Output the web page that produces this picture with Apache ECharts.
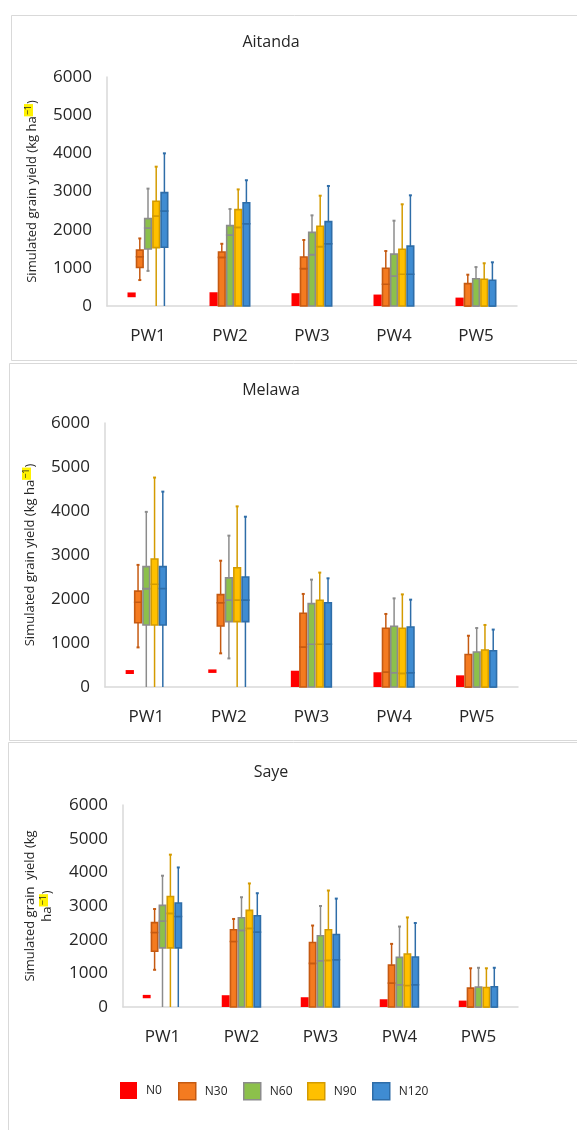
<!DOCTYPE html>
<html>
<head>
<meta charset="utf-8">
<script src="https://cdn.jsdelivr.net/npm/echarts@6/dist/echarts.min.js"></script>
<style>
  html, body { margin: 0; padding: 0; background: #ffffff; }
  #chart { width: 577px; height: 1130px; }
</style>
</head>
<body>
<div id="chart"></div>
<script>
// Planting windows on the x axis and nitrogen rates in the legend
const categories = ['PW1', 'PW2', 'PW3', 'PW4', 'PW5'];
const nitrogenLevels = ['N0', 'N30', 'N60', 'N90', 'N120'];
const sites = ['Aitanda', 'Melawa', 'Saye'];
const yTicks = [0, 1000, 2000, 3000, 4000, 5000, 6000];

// Simulated grain yield (kg/ha), one row per planting window: [min, Q1, median, Q3, max]
const aitandaN0   = [[230, 230, 230, 355, 355], [0, 0, 0, 360, 360], [0, 0, 0, 335, 335], [0, 0, 0, 300, 300], [0, 0, 0, 220, 220]];
const aitandaN30  = [[680, 1010, 1290, 1465, 1770], [0, 0, 1275, 1415, 1630], [0, 0, 980, 1285, 1730], [0, 0, 570, 990, 1440], [0, 0, 0, 585, 820]];
const aitandaN60  = [[920, 1495, 2045, 2290, 3075], [0, 0, 1860, 2105, 2540], [0, 0, 1345, 1930, 2375], [0, 0, 785, 1360, 2235], [0, 0, 0, 715, 1020]];
const aitandaN90  = [[0, 1530, 2360, 2745, 3650], [0, 0, 2060, 2525, 3055], [0, 0, 1555, 2090, 2890], [0, 0, 830, 1485, 2665], [0, 0, 0, 700, 1120]];
const aitandaN120 = [[0, 1540, 2490, 2970, 4000], [0, 0, 2155, 2705, 3295], [0, 0, 1630, 2210, 3145], [0, 0, 830, 1570, 2900], [0, 0, 0, 675, 1145]];

const melawaN0   = [[295, 295, 295, 385, 385], [320, 320, 320, 400, 400], [0, 0, 0, 370, 370], [0, 0, 0, 335, 335], [0, 0, 0, 265, 265]];
const melawaN30  = [[900, 1460, 1925, 2180, 2775], [765, 1385, 1915, 2100, 2870], [0, 0, 910, 1675, 2115], [0, 0, 340, 1335, 1660], [0, 0, 0, 740, 1165]];
const melawaN60  = [[0, 1410, 2235, 2735, 3980], [650, 1485, 1975, 2480, 3440], [0, 0, 970, 1895, 2440], [0, 0, 325, 1380, 2015], [0, 0, 0, 795, 1340]];
const melawaN90  = [[0, 1410, 2335, 2910, 4760], [0, 1485, 1975, 2710, 4105], [0, 0, 970, 1970, 2600], [0, 0, 310, 1335, 2105], [0, 0, 0, 840, 1410]];
const melawaN120 = [[0, 1410, 2240, 2735, 4440], [0, 1485, 1975, 2500, 3870], [0, 0, 975, 1915, 2470], [0, 0, 325, 1365, 1985], [0, 0, 0, 825, 1305]];

const sayeN0   = [[260, 260, 260, 360, 360], [0, 0, 0, 350, 350], [0, 0, 0, 290, 290], [0, 0, 0, 230, 230], [0, 0, 0, 190, 190]];
const sayeN30  = [[1105, 1655, 2215, 2505, 2910], [0, 0, 1945, 2295, 2615], [0, 0, 1295, 1915, 2420], [0, 0, 710, 1245, 1875], [0, 0, 0, 560, 1150]];
const sayeN60  = [[0, 1755, 2555, 3020, 3900], [0, 0, 2275, 2650, 3260], [0, 0, 1375, 2115, 3000], [0, 0, 660, 1475, 2390], [0, 0, 0, 590, 1165]];
const sayeN90  = [[0, 1755, 2780, 3280, 4525], [0, 0, 2335, 2870, 3670], [0, 0, 1385, 2295, 3460], [0, 0, 640, 1575, 2660], [0, 0, 0, 580, 1150]];
const sayeN120 = [[0, 1755, 2690, 3090, 4145], [0, 0, 2225, 2710, 3380], [0, 0, 1405, 2155, 3220], [0, 0, 660, 1485, 2495], [0, 0, 0, 600, 1165]];

const siteData = [
  [aitandaN0, aitandaN30, aitandaN60, aitandaN90, aitandaN120],
  [melawaN0, melawaN30, melawaN60, melawaN90, melawaN120],
  [sayeN0, sayeN30, sayeN60, sayeN90, sayeN120]
];

// Box fill and outline/whisker colours per nitrogen rate
const fills   = ['#FF0000', '#F47B20', '#8CC04B', '#FFC000', '#3F8CD2'];
const strokes = [null,      '#C55A11', '#8C8C8C', '#D49B00', '#2E6DA8'];

// Plot areas of the three panels
const grids = [
  { left: 107, top: 77,  width: 410, height: 229 },
  { left: 105, top: 423, width: 413, height: 264 },
  { left: 123, top: 805, width: 395, height: 202 }
];
const titleTops = [34, 382, 764];
const nameGaps = [66, 66, 67];
const legendLefts = [120, 178, 243, 307, 372];
const yNames = [
  'Simulated grain yield (kg ha{sup|−1})',
  'Simulated grain yield (kg ha{sup|−1})',
  'Simulated grain  yield (kg\nha{sup|−1})'
];

const font = '"Open Sans", "Liberation Sans", sans-serif';
const textColor = '#262626';

function makeRenderer(slot) {
  return function (params, api) {
    const cat = api.value(0);
    const min = api.value(1), q1 = api.value(2), med = api.value(3), q3 = api.value(4), max = api.value(5);
    const band = api.size([1, 0])[0];
    const w = band * 0.1;
    const cx = api.coord([cat, 0])[0] + (slot - 2) * w;
    const y = v => api.coord([cat, v])[1];
    const fill = fills[slot];
    const stroke = strokes[slot];
    const children = [];

    if (stroke) {
      const whisker = { stroke: stroke, lineWidth: 1.5 };
      const cap = { stroke: stroke, lineWidth: 2 };
      if (max > q3) {
        children.push({ type: 'line', shape: { x1: cx, y1: y(q3), x2: cx, y2: y(max) }, style: whisker });
        children.push({ type: 'line', shape: { x1: cx - 1.5, y1: y(max), x2: cx + 1.5, y2: y(max) }, style: cap });
      }
      if (min < q1) {
        children.push({ type: 'line', shape: { x1: cx, y1: y(min), x2: cx, y2: y(q1) }, style: whisker });
        if (min > 0) {
          children.push({ type: 'line', shape: { x1: cx - 1.5, y1: y(min), x2: cx + 1.5, y2: y(min) }, style: cap });
        }
      }
      const boxStyle = { fill: fill, stroke: stroke, lineWidth: 1.6 };
      const x0 = cx - w / 2 + 0.8;
      children.push({ type: 'rect', shape: { x: x0, y: y(med), width: w - 1.6, height: y(q1) - y(med) }, style: boxStyle });
      children.push({ type: 'rect', shape: { x: x0, y: y(q3), width: w - 1.6, height: y(med) - y(q3) }, style: boxStyle });
    } else {
      children.push({ type: 'rect', shape: { x: cx - w / 2, y: y(q3), width: w, height: y(q1) - y(q3) }, style: { fill: fill } });
    }
    return { type: 'group', children: children };
  };
}

const series = [];
siteData.forEach((levels, gi) => {
  levels.forEach((rows, slot) => {
    series.push({
      type: 'custom',
      name: nitrogenLevels[slot],
      xAxisIndex: gi,
      yAxisIndex: gi,
      renderItem: makeRenderer(slot),
      encode: { x: 0, y: [1, 5] },
      itemStyle: { color: fills[slot], borderColor: strokes[slot] || fills[slot] },
      data: rows.map((r, i) => [i].concat(r))
    });
  });
});

// One legend entry per nitrogen rate
const legends = nitrogenLevels.map((n, i) => ({
  left: legendLefts[i],
  top: 1082,
  padding: 0,
  itemWidth: 17,
  itemHeight: 17,
  icon: 'rect',
  selectedMode: false,
  data: [{
    name: n,
    itemStyle: { color: fills[i], borderColor: strokes[i] || fills[i], borderWidth: strokes[i] ? 1.5 : 0 }
  }],
  textStyle: { fontFamily: font, fontSize: 12, color: textColor, padding: [0, 0, 0, 4] }
}));

const option = {
  animation: false,
  backgroundColor: '#ffffff',
  graphic: [
    { type: 'rect', shape: { x: 11.5, y: 15.5, width: 620, height: 345 }, style: { fill: 'none', stroke: '#d9d9d9', lineWidth: 1 } },
    { type: 'rect', shape: { x: 9.5, y: 363.5, width: 620, height: 377 }, style: { fill: 'none', stroke: '#d9d9d9', lineWidth: 1 } },
    { type: 'rect', shape: { x: 8.5, y: 742.5, width: 620, height: 420 }, style: { fill: 'none', stroke: '#d9d9d9', lineWidth: 1 } }
  ],
  title: sites.map((s, i) => ({
    text: s,
    left: 271,
    top: titleTops[i],
    textAlign: 'center',
    padding: 0,
    textStyle: { fontFamily: font, fontSize: 16, fontWeight: 'normal', color: textColor }
  })),
  legend: legends,
  grid: grids,
  xAxis: grids.map((g, i) => ({
    type: 'category',
    gridIndex: i,
    data: categories,
    axisLine: { lineStyle: { color: '#d9d9d9', width: 1.5 } },
    axisTick: { show: false },
    axisLabel: { margin: 22, fontFamily: font, fontSize: 17, color: textColor }
  })),
  yAxis: grids.map((g, i) => ({
    type: 'value',
    gridIndex: i,
    min: yTicks[0],
    max: yTicks[yTicks.length - 1],
    interval: yTicks[1] - yTicks[0],
    splitLine: { show: false },
    axisTick: { show: false },
    axisLine: { show: true, lineStyle: { color: '#d9d9d9', width: 1.5 } },
    axisLabel: { margin: 15, fontFamily: font, fontSize: 17, color: textColor, formatter: v => String(v) },
    name: yNames[i],
    nameLocation: 'middle',
    nameRotate: 90,
    nameGap: nameGaps[i],
    nameTextStyle: {
      fontFamily: font,
      fontSize: 13,
      color: textColor,
      lineHeight: 17,
      rich: {
        sup: { fontFamily: font, fontSize: 9, color: textColor, backgroundColor: '#FFF200', padding: [0, 1], verticalAlign: 'top', lineHeight: 17 }
      }
    }
  })),
  series: series
};

const chart = echarts.init(document.getElementById('chart'), null, { renderer: 'canvas' });
chart.setOption(option);
</script>
</body>
</html>
